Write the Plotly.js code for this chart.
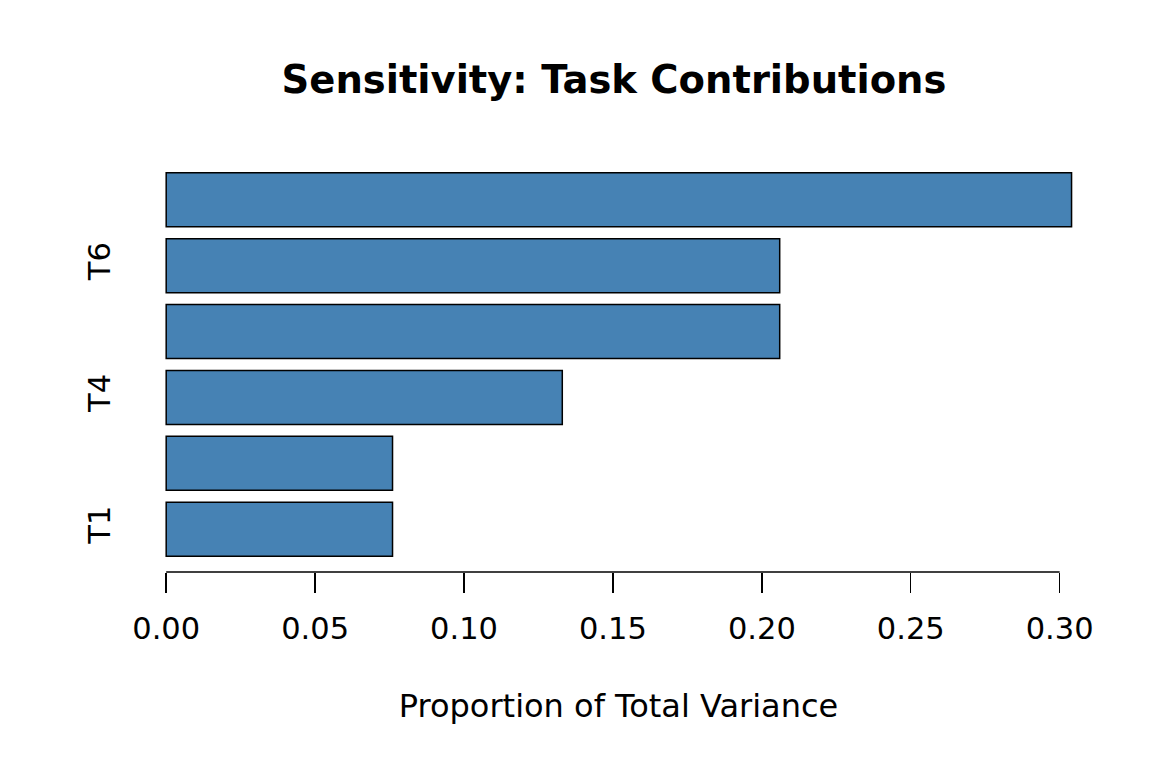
<!DOCTYPE html>
<html>
<head>
<meta charset="utf-8">
<script src="https://cdn.plot.ly/plotly-3.0.1.min.js"></script>
<style>
	body { margin: 0; background: #fff; }
	#chart { width: 1152px; height: 768px; }
</style>
</head>
<body>
<div id="chart"></div>
<script>
// tasks, bottom bar first (sorted by contribution)
const tasks = ['T1', 'T2', 'T4', 'T3', 'T6', 'T5']
const contributions = [0.076, 0.076, 0.133, 0.206, 0.206, 0.304]
// R only printed every other name, the rest overlapped
const shown_labels = ['T1', 'T4', 'T6']
const x_ticks = [0, 0.05, 0.10, 0.15, 0.20, 0.25, 0.30]

const font = 'DejaVu Sans, sans-serif'

Plotly.newPlot('chart', [
	{
		type: 'bar',
		orientation: 'h',
		y: tasks,
		x: contributions,
		marker: {
			color: '#4682B4',
			line: { color: '#000', width: 1.5 },
		},
		cliponaxis: false,
		hoverinfo: 'none',
	},
], {
	width: 1152,
	height: 768,
	paper_bgcolor: '#fff',
	plot_bgcolor: '#fff',
	showlegend: false,
	bargap: 0.18,
	margin: { l: 130, r: 45, t: 157, b: 196 },
	font: { family: font, color: '#000', size: 30 },
	title: {
		text: '<b>Sensitivity: Task Contributions</b>',
		font: { family: font, size: 38.5, color: '#000' },
		x: 0.533,
		xanchor: 'center',
		y: 1 - 80 / 768,
		yanchor: 'middle',
		yref: 'container',
	},
	xaxis: {
		range: [-0.01215, 0.3159],
		tickvals: x_ticks,
		ticktext: x_ticks.map(v => v.toFixed(2)),
		ticks: 'outside',
		ticklen: 20,
		tickwidth: 1.5,
		tickcolor: '#000',
		ticklabelstandoff: 9,
		showgrid: false,
		zeroline: false,
		showline: false,
		tickfont: { family: font, size: 30.5 },
		title: {
			text: 'Proportion of Total Variance',
			font: { family: font, size: 32 },
			standoff: 50,
		},
	},
	yaxis: {
		type: 'category',
		range: [-0.65, 5.65],
		tickvals: shown_labels,
		ticktext: shown_labels,
		tickangle: -90,
		ticks: '',
		showgrid: false,
		zeroline: false,
		showline: false,
		ticklabelstandoff: 13,
		tickfont: { family: font, size: 30.5 },
	},
	shapes: [
		{
			// R draws the axis line only between the first and last tick
			type: 'line',
			xref: 'x',
			yref: 'paper',
			x0: x_ticks[0],
			x1: x_ticks[x_ticks.length - 1],
			y0: 0,
			y1: 0,
			line: { color: '#000', width: 1.5 },
		},
	],
}, { displayModeBar: false, staticPlot: true })
</script>
</body>
</html>
